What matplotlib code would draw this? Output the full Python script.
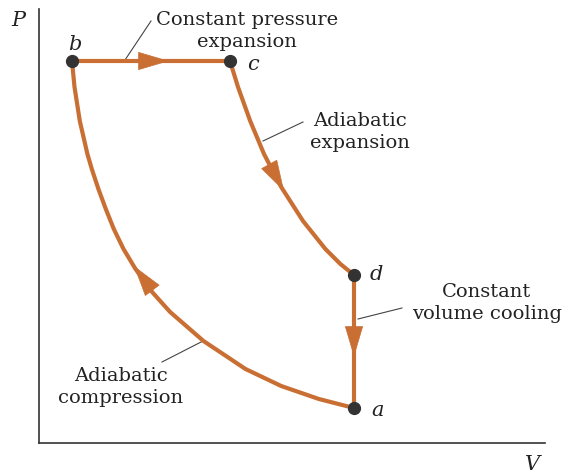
import matplotlib.pyplot as plt

# state points of the cycle (V, P), arbitrary units
states = ['a', 'b', 'c', 'd']
V_state = [315, 33, 191, 315]
P_state = [35, 382, 382, 168]

# points read along the adiabatic compression a -> b
V_comp = [315, 279.9, 242.2, 206.5, 164.5, 131.1, 113.1, 96.5, 84.5, 74.8, 66.8,
          59.4, 52.8, 48.4, 40.8, 35.5, 33]
P_comp = [35, 44, 57, 74, 102, 131, 151, 174, 194, 214, 234,
          254, 274, 289, 322, 356, 382]

# points read along the adiabatic expansion c -> d
V_exp = [191, 199, 211.2, 225, 242.2, 264, 286.4, 301.4, 315]
P_exp = [382, 356, 322, 289, 256, 222, 194, 179, 168]

line_col = '#C96F34'
dot_col = '#333333'
text_col = '#222222'
serif = 'DejaVu Serif'

fig = plt.figure(figsize=(5.7, 4.77), dpi=100)
ax = fig.add_axes([39 / 570, 33 / 477, 506 / 570, 434 / 477])
ax.set_xlim(0, 506)
ax.set_ylim(0, 434)

# cycle
kw = dict(color=line_col, lw=3, solid_capstyle='round', solid_joinstyle='round', zorder=2)
ax.plot(V_comp, P_comp, **kw)
ax.plot(V_exp, P_exp, **kw)
ax.plot([V_state[1], V_state[2]], [P_state[1], P_state[2]], **kw)
ax.plot([V_state[3], V_state[0]], [P_state[3], P_state[0]], **kw)

# direction arrows (tail, tip)
arrows = [((95, 382), (130, 382)),
          ((230, 279), (245, 252)),
          ((315, 122), (315, 86)),
          ((116, 149), (95, 177))]
for tail, tip in arrows:
    ax.annotate('', xy=tip, xytext=tail,
                arrowprops=dict(arrowstyle='-|>,head_length=2.1,head_width=0.62',
                                color=line_col, lw=0.5, shrinkA=0, shrinkB=0),
                zorder=3)

# state dots and labels
ax.plot(V_state, P_state, 'o', color=dot_col, ms=8.5, zorder=4)
label_off = {'a': (24, -2), 'b': (3, 17), 'c': (23, -3), 'd': (22, 1)}
for s, v, p in zip(states, V_state, P_state):
    dx, dy = label_off[s]
    ax.text(v + dx, p + dy, s, fontsize=15, style='italic', family=serif,
            color=text_col, ha='center', va='center')

# process labels with leader lines: text, text position, line start, line end
notes = [('Constant pressure\nexpansion', (208, 413), (86, 383), (112, 422)),
         ('Adiabatic\nexpansion', (321, 312), (224, 302), (264, 321)),
         ('Constant\nvolume cooling', (448, 141), (319, 124), (363, 135)),
         ('Adiabatic\ncompression', (82, 57), (164, 102), (123, 81))]
for txt, pos, p0, p1 in notes:
    ax.plot([p0[0], p1[0]], [p0[1], p1[1]], color='#444444', lw=0.8, zorder=1)
    ax.text(pos[0], pos[1], txt, fontsize=14, family=serif, color=text_col,
            ha='center', va='center', linespacing=1.25)

# axes
for side in ['top', 'right']:
    ax.spines[side].set_visible(False)
for side in ['left', 'bottom']:
    ax.spines[side].set_linewidth(1.2)
    ax.spines[side].set_color('#333333')
ax.set_xticks([])
ax.set_yticks([])
ax.text(-21, 424, 'P', fontsize=15, style='italic', family=serif, color=text_col,
        ha='center', va='center', clip_on=False)
ax.text(493, -21, 'V', fontsize=15, style='italic', family=serif, color=text_col,
        ha='center', va='center', clip_on=False)

fig.savefig('out.png', dpi=100)
